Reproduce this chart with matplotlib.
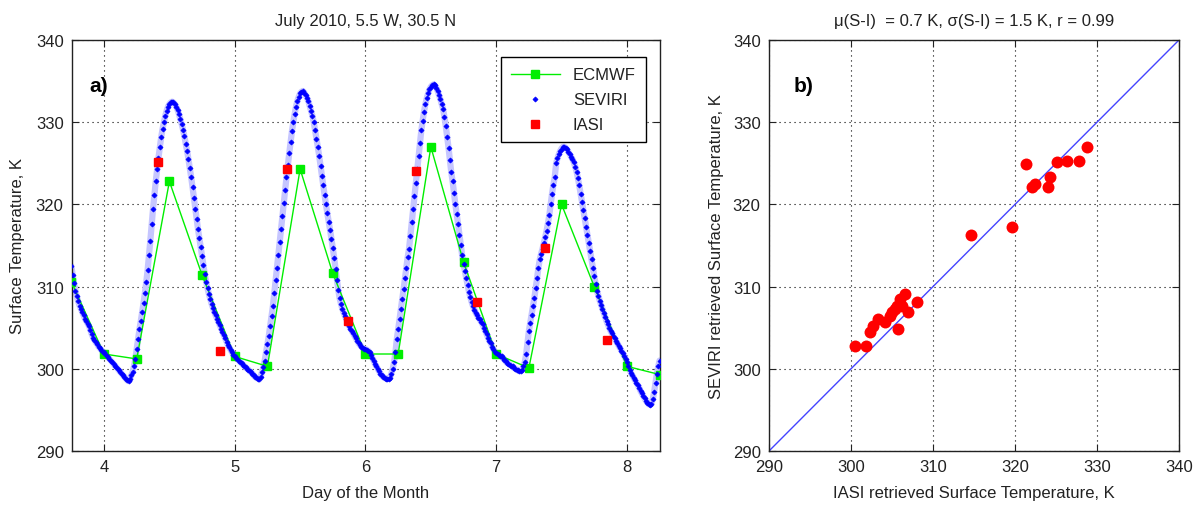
import numpy as np
import matplotlib
matplotlib.use('Agg')
import matplotlib.pyplot as plt

plt.rcParams['font.family'] = ['Liberation Sans', 'DejaVu Sans']
plt.rcParams['text.color'] = '#222222'
plt.rcParams['axes.labelcolor'] = '#222222'
plt.rcParams['xtick.color'] = '#222222'
plt.rcParams['ytick.color'] = '#222222'

# SEVIRI, 15 min steps starting day 3.75 (18:00)
seviri_day3 = [312.5, 311.4, 310.4, 309.5, 308.8, 308.2, 307.7, 307.3,
               306.9, 306.5, 306.1, 305.8, 305.5, 305.2, 304.7, 304.2,
               303.8, 303.5, 303.2, 303.0, 302.7, 302.5, 302.3, 302.1]
seviri_day4 = [302.0, 301.8, 301.6, 301.4, 301.2, 301.0, 300.8, 300.6,
               300.4, 300.2, 300.0, 299.8, 299.6, 299.4, 299.2, 299.0,
               298.8, 298.6, 298.5, 298.7, 299.2, 299.6, 300.3, 301.2,
               302.4, 303.6, 304.8, 305.8, 306.9, 308.0, 309.2, 310.5,
               312.0, 313.8, 315.6, 317.6, 319.5, 321.2, 322.8, 324.3,
               325.7, 327.0, 328.2, 329.2, 330.0, 330.8, 331.4, 331.9,
               332.2, 332.4, 332.5, 332.4, 332.2, 331.9, 331.5, 331.0,
               330.4, 329.8, 329.1, 328.3, 327.4, 326.5, 325.5, 324.4,
               323.3, 322.1, 320.8, 319.5, 318.2, 317.0, 315.9, 314.8,
               313.7, 312.6, 311.5, 310.6, 309.8, 309.1, 308.5, 307.9,
               307.4, 306.9, 306.5, 306.1, 305.7, 305.3, 304.9, 304.5,
               304.1, 303.7, 303.3, 302.9, 302.6, 302.3, 302.0, 301.7]
seviri_day5 = [301.5, 301.3, 301.2, 301.0, 300.8, 300.7, 300.5, 300.3,
               300.2, 300.0, 299.9, 299.7, 299.6, 299.4, 299.2, 299.0,
               298.9, 298.8, 298.7, 299.0, 299.6, 300.2, 301.0, 302.0,
               303.0, 304.0, 305.2, 306.4, 307.6, 309.2, 310.8, 312.3,
               313.8, 315.4, 317.0, 318.6, 320.2, 321.8, 323.3, 324.8,
               326.2, 327.6, 328.9, 330.0, 331.0, 331.9, 332.6, 333.1,
               333.5, 333.7, 333.8, 333.6, 333.3, 333.0, 332.6, 332.0,
               331.4, 330.8, 330.0, 329.0, 328.0, 327.0, 325.9, 324.7,
               323.5, 322.3, 321.1, 320.0, 318.9, 317.9, 316.9, 315.8,
               314.7, 313.5, 312.2, 310.8, 309.6, 308.6, 307.9, 307.3,
               306.8, 306.4, 306.0, 305.6, 305.2, 304.9, 304.6, 304.3,
               304.0, 303.7, 303.4, 303.1, 302.9, 302.7, 302.5, 302.4]
seviri_day6 = [302.4, 302.3, 302.2, 302.0, 301.7, 301.3, 301.0, 300.6,
               300.3, 300.0, 299.7, 299.4, 299.2, 299.0, 298.9, 298.8,
               298.8, 298.8, 298.9, 299.4, 300.0, 300.8, 302.0, 303.6,
               304.8, 306.0, 307.3, 308.5, 309.7, 311.0, 312.3, 313.6,
               314.6, 316.2, 317.8, 319.4, 321.0, 322.6, 324.3, 325.9,
               327.5, 329.0, 330.2, 331.3, 332.2, 332.9, 333.5, 334.0,
               334.3, 334.5, 334.6, 334.5, 334.2, 333.8, 333.3, 332.8,
               332.2, 331.6, 330.6, 329.5, 328.2, 326.9, 325.4, 323.9,
               322.8, 321.4, 320.0, 318.8, 317.6, 316.3, 315.0, 313.8,
               312.8, 311.9, 311.0, 310.2, 309.4, 308.7, 308.1, 307.6,
               307.2, 306.8, 306.5, 306.2, 306.0, 305.7, 305.4, 305.0,
               304.6, 304.2, 303.8, 303.4, 303.1, 302.7, 302.4, 302.1]
seviri_day7 = [301.9, 301.8, 301.7, 301.6, 301.5, 301.3, 301.1, 300.9,
               300.7, 300.6, 300.5, 300.4, 300.3, 300.1, 300.0, 299.9,
               299.8, 299.7, 299.7, 299.9, 300.3, 300.8, 301.8, 303.2,
               304.6, 305.6, 306.6, 307.6, 308.6, 309.8, 311.0, 312.3,
               313.3, 314.0, 314.6, 315.3, 316.0, 316.8, 317.7, 318.7,
               320.0, 321.3, 322.4, 323.3, 325.0, 325.6, 326.1, 326.5,
               326.8, 327.0, 327.0, 326.9, 326.7, 326.4, 326.1, 325.8,
               325.5, 325.1, 324.6, 324.0, 323.2, 322.3, 321.3, 320.3,
               319.3, 318.3, 317.3, 316.3, 315.3, 314.3, 313.3, 312.3,
               311.3, 310.3, 309.5, 308.9, 308.3, 307.8, 307.3, 306.8,
               306.3, 305.8, 305.4, 305.0, 304.6, 304.3, 304.0, 303.7,
               303.4, 303.1, 302.8, 302.5, 302.2, 301.9, 301.6, 301.2]
seviri_day8 = [300.8, 300.3, 299.9, 299.5, 299.2, 298.9, 298.6, 298.3,
               298.0, 297.7, 297.3, 297.0, 296.7, 296.4, 296.1, 295.9,
               295.7, 295.6, 295.7, 296.3, 297.2, 298.3, 299.4, 300.3,
               301.0]
seviri_start = 3.75

# ECMWF, 6-hourly
ecmwf_day = [3.75, 4.0, 4.25, 4.5, 4.75, 5.0, 5.25, 5.5, 5.75, 6.0,
             6.25, 6.5, 6.75, 7.0, 7.25, 7.5, 7.75, 8.0, 8.25]
ecmwf_temp = [310.6, 301.8, 301.2, 322.8, 311.4, 301.5, 300.3, 324.3, 311.6, 301.8,
              301.8, 327.0, 313.0, 301.8, 300.1, 320.0, 310.0, 300.3, 299.3]

# IASI overpasses
iasi_day = [4.41, 4.89, 5.40, 5.87, 6.39, 6.85, 7.37, 7.85]
iasi_temp = [325.2, 302.2, 324.3, 305.8, 324.1, 308.1, 314.7, 303.5]

# scatter: IASI vs SEVIRI
scat_iasi = [300.5, 301.8, 302.3, 302.7, 303.3, 304.1, 304.8, 305.0, 305.4,
             305.6, 305.7, 306.0, 306.2, 306.6, 307.0, 308.0, 314.6, 319.6,
             321.3, 322.1, 322.4, 324.0, 324.3, 325.1, 326.3, 327.8, 328.8]
scat_seviri = [302.8, 302.8, 304.5, 305.2, 306.1, 305.7, 306.4, 306.9, 307.3,
               307.6, 304.8, 308.5, 307.6, 309.1, 306.9, 308.1, 316.3, 317.2,
               324.9, 322.1, 322.5, 322.1, 323.3, 325.2, 325.3, 325.3, 327.0]

seviri = seviri_day3 + seviri_day4 + seviri_day5 + seviri_day6 + seviri_day7 + seviri_day8
seviri_t = seviri_start + np.arange(len(seviri)) / 96.0

fig = plt.figure(figsize=(12.02, 5.10), dpi=100)
ax1 = fig.add_axes([72 / 1202, 58 / 510, 588 / 1202, 411 / 510])
ax2 = fig.add_axes([769 / 1202, 58 / 510, 410 / 1202, 411 / 510])

# panel a
ax1.plot(seviri_t, seviri, color='#c6c6ff', lw=4.5, solid_capstyle='round', zorder=2)
l1, = ax1.plot(ecmwf_day, ecmwf_temp, color='#00ee00', lw=1, marker='s', ms=5.2,
               mec='#00ee00', mfc='#00ee00', zorder=3, label='ECMWF')
l2, = ax1.plot(seviri_t, seviri, ls='none', marker='D', ms=2.6, mew=0.5,
               color='#0000ff', zorder=4, label='SEVIRI')
l3, = ax1.plot(iasi_day, iasi_temp, ls='none', marker='s', ms=5.8,
               color='#ff0000', zorder=5, label='IASI')

ax1.set_xlim(3.755, 8.253)
ax1.set_ylim(290, 340)
ax1.set_xticks([4, 5, 6, 7, 8])
ax1.set_yticks(np.arange(290, 341, 10))
ax1.set_xlabel('Day of the Month', fontsize=12, labelpad=8)
ax1.set_ylabel('Surface Temperature, K', fontsize=12, labelpad=8)
ax1.set_title('July 2010, 5.5 W, 30.5 N', fontsize=12, pad=11)
ax1.text(0.046, 0.89, 'a)', transform=ax1.transAxes, fontsize=15,
         fontweight='bold', ha='center', va='center', color='k')
leg = ax1.legend(handles=[l1, l2, l3], loc='upper right', bbox_to_anchor=(0.99, 0.978),
                 fontsize=12, fancybox=False, framealpha=1, edgecolor='k',
                 handlelength=2.9, labelspacing=0.6, borderpad=0.6)
leg.get_frame().set_linewidth(1.0)

# panel b
ax2.plot([290, 340], [290, 340], color='#4444ff', lw=1, zorder=2)
ax2.plot(scat_iasi, scat_seviri, ls='none', marker='o', ms=8.6, mew=0,
         color='#ff0000', zorder=3)
ax2.set_xlim(290, 340)
ax2.set_ylim(290, 340)
ax2.set_xticks(np.arange(290, 341, 10))
ax2.set_yticks(np.arange(290, 341, 10))
ax2.set_xlabel('IASI retrieved Surface Temperature, K', fontsize=12, labelpad=8)
ax2.set_ylabel('SEVIRI retrieved Surface Temperature, K', fontsize=12, labelpad=6)
ax2.set_title('\u03bc(S-I)  = 0.7 K, \u03c3(S-I) = 1.5 K, r = 0.99', fontsize=12, pad=11)
ax2.text(0.083, 0.89, 'b)', transform=ax2.transAxes, fontsize=15,
         fontweight='bold', ha='center', va='center', color='k')

for ax in (ax1, ax2):
    ax.grid(True, color='k', linestyle=(0, (1, 3.5)), linewidth=0.8)
    ax.set_axisbelow(True)
    ax.tick_params(direction='in', top=True, right=True, length=5, width=0.8,
                   labelsize=12, pad=6)
    for sp in ax.spines.values():
        sp.set_color('#222222')
        sp.set_linewidth(1.0)

fig.savefig('out.png', dpi=100)
